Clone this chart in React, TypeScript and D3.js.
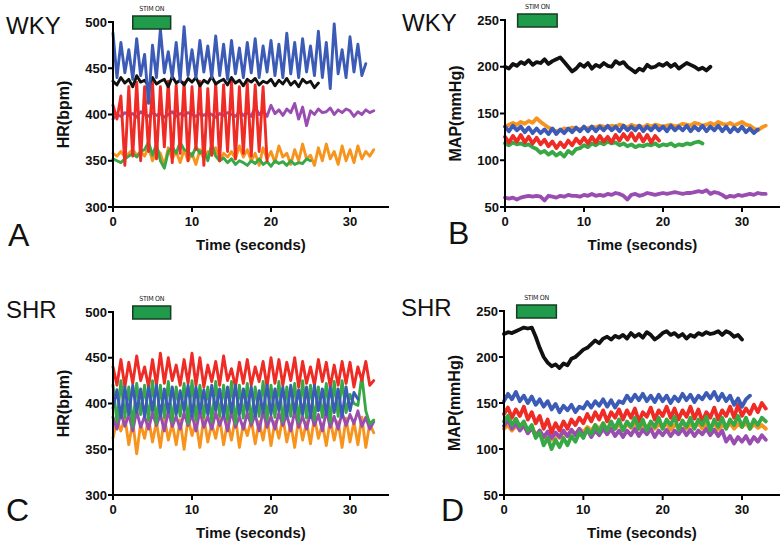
import React from "react";
import * as d3 from "d3";

// ---------- data (sampled every 0.5 s) ----------
const DT = 0.5;
const X_TICKS = [0, 10, 20, 30];
const HR_TICKS = [300, 350, 400, 450, 500];
const MAP_TICKS = [50, 100, 150, 200, 250];

// Panel A: WKY heart rate
const hrWkyBlue = [488,440,478,445,470,438,482,442,465,412, 475,440,492,445,468,440,478,436,495,442, 470,440,480,446,474,440,485,442,476,438, 480,444,472,440,478,445,482,440,474,446, 480,442,476,440,488,444,478,440,482,446, 474,442,490,440,478,428,498,444,470,440, 484,446,476,442,455];
const hrWkyBlack = [436,432,440,434,438,430,442,435,437,431, 440,433,436,438,430,441,434,437,432,439, 435,440,431,437,434,441,433,436,438,432, 440,434,437,431,438,435,439,432,436,434, 438,431,437,433,439,432,436,430,438,434, 436,429,434];
const hrWkyRed = [410,395,420,345,430,355,435,350,430,360, 435,352,430,365,436,348,432,358,435,350, 430,362,436,345,428,356,434,350,432,360, 436,352,430,358,434,355,432,360,430,350];
const hrWkyPurple = [395,400,398,402,399,401,397,403,400,398, 402,399,401,397,400,403,398,401,399,402, 400,398,401,399,402,400,397,401,399,402, 400,398,403,399,402,398,408,400,404,398, 410,401,405,399,406,402,412,395,408,388, 404,400,406,402,403,407,400,405,402,406, 404,398,403,400,405,402,404];
const hrWkyOrange = [358,355,360,354,358,362,356,360,355,365, 350,362,358,345,364,352,360,348,362,350, 358,346,362,352,360,356,364,350,358,354, 360,352,366,354,362,350,358,345,364,352, 360,348,366,354,358,346,362,350,368,352, 356,345,364,350,368,352,360,346,366,350, 362,348,366,352,360,355,362];
const hrWkyGreen = [352,350,348,352,355,358,354,360,362,370, 356,368,350,342,360,365,358,370,362,360, 355,365,358,362,350,368,355,350,353,348, 352,346,350,348,345,350,347,352,346,349, 344,350,347,349,345,350,346,348,347,352, 350];

// Panel B: WKY mean arterial pressure
const mapWkyBlack = [200,198,203,201,205,203,207,202,205,204, 208,203,206,208,210,205,200,195,198,203, 200,204,198,202,200,204,201,200,206,203, 205,200,197,194,198,196,202,199,200,203, 201,204,200,203,198,201,204,202,200,197, 199,196,200];
const mapWkyOrange = [136,138,140,138,141,139,142,140,145,141, 138,135,133,131,132,134,133,135,134,133, 135,134,136,135,137,136,135,137,136,138, 137,135,138,136,137,135,138,136,138,137, 136,137,138,136,137,139,138,137,140,139, 137,138,140,138,141,139,138,140,137,139, 141,138,137,134,132,135,137];
const mapWkyBlue = [136,131,137,132,136,130,135,129,134,129, 133,128,134,128,133,129,134,130,135,131, 136,131,136,131,136,132,137,132,136,131, 137,132,136,132,137,131,136,132,137,132, 136,131,137,132,136,132,137,131,136,132, 137,131,136,132,137,131,136,130,135,131, 136,130,134,129,133];
const mapWkyRed = [125,119,126,120,127,119,125,118,124,117, 122,115,120,113,119,114,121,116,123,118, 124,118,125,119,126,120,125,119,127,121, 128,122,129,121,128,120,127,119,126,121];
const mapWkyGreen = [118,116,119,117,118,116,117,114,112,108, 110,106,109,105,108,104,110,107,112,113, 116,114,118,116,119,117,120,118,119,116, 118,115,117,114,116,115,117,116,118,115, 117,116,118,115,117,116,118,117,119,120, 118];
const mapWkyPurple = [60,59,60,58,60,61,62,61,62,61, 57,62,61,60,62,61,63,62,62,61, 63,62,64,62,63,62,64,63,65,64, 62,58,63,64,62,63,65,64,63,64, 65,64,65,66,65,64,65,65,66,67, 66,68,64,66,65,63,60,62,61,63, 62,63,64,63,65,64,64];

// Panel C: SHR heart rate
const hrShrRed = [440,420,448,418,445,422,452,425,440,418, 448,420,455,422,450,425,442,420,448,422, 455,420,450,418,442,424,446,420,452,425, 438,418,445,422,448,420,440,424,446,418, 450,422,448,420,445,425,450,418,446,422, 440,420,448,424,445,418,442,420,446,422, 445,418,440,425,446,420,425];
const hrShrGreen = [420,380,425,385,418,375,422,388,420,382, 425,378,420,385,424,380,418,386,422,378, 425,382,420,385,418,380,424,386,420,382, 424,378,420,384,422,380,418,386,424,382, 420,385,424,380,418,386,422,380,425,384, 420,382,418,385,422,380,424,386,425,390, 410,400,398,430,392,378,382];
const hrShrBlue = [395,415,385,418,388,420,390,416,385,418, 392,420,386,416,390,418,388,414,392,420, 386,418,390,415,388,420,392,416,386,418, 390,420,388,416,392,418,386,414,390,420, 388,416,392,418,386,420,390,415,388,418, 385,420,392,416,388,418,390,416,386,418, 392,412,405];
const hrShrPurple = [385,372,390,375,388,370,392,374,386,372, 390,376,388,370,392,375,386,372,390,376, 388,370,392,374,386,372,390,376,388,370, 392,374,386,372,390,376,388,370,392,374, 386,372,390,376,388,370,392,374,386,372, 390,376,388,370,392,374,386,372,390,376, 388,378,392,375,385,372,380];
const hrShrOrange = [362,382,370,385,355,380,345,378,362,384, 358,380,352,385,360,378,355,382,350,384, 365,380,352,385,358,378,362,384,355,380, 360,385,352,378,365,382,356,380,360,385, 354,380,362,385,358,378,352,384,360,380, 356,385,362,378,354,382,360,380,352,384, 358,380,355,385,352,378,368];

// Panel D: SHR mean arterial pressure
const mapShrBlack = [225,227,226,228,230,232,231,232,222,210, 200,194,190,192,188,193,191,198,200,204, 208,210,214,218,215,220,222,219,223,221, 224,220,226,222,225,221,227,224,219,222, 226,228,224,226,222,225,220,224,222,226, 224,227,225,226,228,224,228,226,222,224, 219];
const mapShrBlue = [152,160,154,162,152,158,150,157,148,154, 146,152,143,149,140,147,142,148,140,146, 144,151,145,152,147,154,146,153,145,152, 150,158,152,159,153,160,152,158,151,159, 152,158,150,157,152,160,153,159,151,158, 154,161,155,162,153,160,152,158,148,155, 146,154,158];
const mapShrRed = [138,145,134,143,136,146,132,140,128,136, 122,132,118,128,120,130,122,132,126,134, 128,138,130,140,132,142,130,140,134,143, 132,142,134,144,130,140,135,145,132,142, 136,146,134,144,132,142,135,146,133,143, 130,140,134,145,132,142,136,146,134,148, 136,144,138,148,140,150,144];
const mapShrOrange = [122,126,120,125,122,127,118,124,115,120, 112,118,110,116,112,118,114,120,116,122, 118,124,120,126,122,128,120,126,122,127, 121,127,123,128,122,126,124,128,122,127, 123,128,121,126,124,129,122,127,123,128, 122,127,124,128,121,126,123,128,122,127, 124,128,122,127,123,126,122];
const mapShrGreen = [130,136,126,133,124,130,120,126,112,118, 104,112,100,110,102,112,104,114,108,118, 112,122,116,126,118,128,120,130,122,132, 120,130,124,134,122,132,120,130,124,134, 122,132,126,135,121,131,124,134,122,132, 126,135,120,132,124,134,122,132,126,136, 124,134,122,132,126,134,130];
const mapShrPurple = [125,132,122,128,120,126,117,123,114,120, 113,119,112,118,113,120,114,121,115,122, 114,121,113,120,115,122,116,122,114,120, 113,120,115,122,114,121,116,122,113,120, 115,121,114,120,116,122,115,121,114,120, 116,122,115,121,114,120,108,114,106,113, 108,114,106,113,108,115,110];

// stimulation windows (seconds)
const stimA = [2.5, 7.3];
const stimB = [1.6, 6.6];

// ---------- styling ----------
const C = {
  blue: "#3c5bb6",
  black: "#111111",
  red: "#ee2b25",
  purple: "#9a4db0",
  orange: "#f7941e",
  green: "#38a846",
};

type Series = { values: number[]; color: string };
type Panel = {
  x0: number; x1: number; axisEnd: number; yTop: number; yBot: number;
  domainY: [number, number]; yTicks: number[]; yLabel: string;
  strain: string; strainX: number; strainY: number;
  letter: string; letterX: number; letterY: number;
  stim: number[]; series: Series[]; sw: number;
};

const panels: Panel[] = [
  {
    x0: 113, x1: 350, axisEnd: 389, yTop: 22, yBot: 207, domainY: [300, 500], yTicks: HR_TICKS,
    yLabel: "HR(bpm)", strain: "WKY", strainX: 6, strainY: 34, letter: "A", letterX: 8, letterY: 246,
    stim: stimA, sw: 2.9,
    series: [
      { values: hrWkyOrange, color: C.orange },
      { values: hrWkyGreen, color: C.green },
      { values: hrWkyPurple, color: C.purple },
      { values: hrWkyRed, color: C.red },
      { values: hrWkyBlack, color: C.black },
      { values: hrWkyBlue, color: C.blue },
    ],
  },
  {
    x0: 505, x1: 742, axisEnd: 780, yTop: 20, yBot: 207, domainY: [50, 250], yTicks: MAP_TICKS,
    yLabel: "MAP(mmHg)", strain: "WKY", strainX: 402, strainY: 31, letter: "B", letterX: 448, letterY: 244,
    stim: stimB, sw: 3.8,
    series: [
      { values: mapWkyOrange, color: C.orange },
      { values: mapWkyBlue, color: C.blue },
      { values: mapWkyGreen, color: C.green },
      { values: mapWkyRed, color: C.red },
      { values: mapWkyPurple, color: C.purple },
      { values: mapWkyBlack, color: C.black },
    ],
  },
  {
    x0: 113, x1: 350, axisEnd: 389, yTop: 312, yBot: 495, domainY: [300, 500], yTicks: HR_TICKS,
    yLabel: "HR(bpm)", strain: "SHR", strainX: 6, strainY: 318, letter: "C", letterX: 6, letterY: 521,
    stim: stimA, sw: 2.9,
    series: [
      { values: hrShrOrange, color: C.orange },
      { values: hrShrPurple, color: C.purple },
      { values: hrShrGreen, color: C.green },
      { values: hrShrRed, color: C.red },
      { values: hrShrBlue, color: C.blue },
    ],
  },
  {
    x0: 504, x1: 742, axisEnd: 780, yTop: 311, yBot: 495, domainY: [50, 250], yTicks: MAP_TICKS,
    yLabel: "MAP(mmHg)", strain: "SHR", strainX: 401, strainY: 316, letter: "D", letterX: 441, letterY: 521,
    stim: stimB, sw: 3.8,
    series: [
      { values: mapShrOrange, color: C.orange },
      { values: mapShrPurple, color: C.purple },
      { values: mapShrRed, color: C.red },
      { values: mapShrGreen, color: C.green },
      { values: mapShrBlue, color: C.blue },
      { values: mapShrBlack, color: C.black },
    ],
  },
];

const FONT = "'Liberation Sans', Arial, Helvetica, sans-serif";

function PanelView({ p }: { p: Panel }) {
  const x = d3.scaleLinear().domain([0, 30]).range([p.x0, p.x1]);
  const y = d3.scaleLinear().domain(p.domainY).range([p.yBot, p.yTop]);
  const line = d3
    .line<number>()
    .x((_, i) => x(i * DT))
    .y((v) => y(v));
  const midX = (p.x0 + p.axisEnd) / 2;
  const midY = (p.yTop + p.yBot) / 2;
  return (
    <g>
      {/* traces */}
      {p.series.map((s, i) => (
        <path key={i} d={line(s.values) || ""} fill="none" stroke={s.color}
          strokeWidth={p.sw} strokeLinejoin="round" strokeLinecap="round" />
      ))}
      {/* y axis */}
      <line x1={p.x0} x2={p.x0} y1={p.yTop - 1} y2={p.yBot} stroke="#000" strokeWidth={2} />
      {p.yTicks.map((t) => (
        <g key={t}>
          <line x1={p.x0 - 5} x2={p.x0} y1={y(t)} y2={y(t)} stroke="#000" strokeWidth={2} />
          <text x={p.x0 - 6} y={y(t)} dy="0.36em" textAnchor="end" fontFamily={FONT}
            fontWeight="bold" fontSize={13} fill="#111">{t}</text>
        </g>
      ))}
      {/* x axis */}
      <line x1={p.x0 - 1} x2={p.axisEnd} y1={p.yBot} y2={p.yBot} stroke="#000" strokeWidth={2} />
      {X_TICKS.map((t) => (
        <g key={t}>
          <line x1={x(t)} x2={x(t)} y1={p.yBot} y2={p.yBot + 5} stroke="#000" strokeWidth={2} />
          <text x={x(t)} y={p.yBot + 19} textAnchor="middle" fontFamily={FONT}
            fontWeight="bold" fontSize={13} fill="#111">{t}</text>
        </g>
      ))}
      <text x={midX} y={p.yBot + 43} textAnchor="middle" fontFamily={FONT}
        fontWeight="bold" fontSize={15} fill="#111">Time (seconds)</text>
      <text transform={`translate(${p.x0 - 44},${midY}) rotate(-90)`} textAnchor="middle"
        fontFamily={FONT} fontWeight="bold" fontSize={16} fill="#111">{p.yLabel}</text>
      {/* stim bar */}
      <rect x={x(p.stim[0])} y={p.yTop - 6} width={x(p.stim[1]) - x(p.stim[0])} height={13}
        fill="#1f9b4b" stroke="#173d22" strokeWidth={1.5} />
      <text x={(x(p.stim[0]) + x(p.stim[1])) / 2} y={p.yTop - 11} textAnchor="middle"
        fontFamily="'Liberation Sans Narrow', 'DejaVu Sans Condensed', sans-serif"
        fontSize={7} fill="#222" letterSpacing={-0.3}>STIM ON</text>
      {/* labels */}
      <text x={p.strainX} y={p.strainY} fontFamily={FONT} fontSize={24} fill="#111">{p.strain}</text>
      <text x={p.letterX} y={p.letterY} fontFamily={FONT} fontSize={32} fill="#111">{p.letter}</text>
    </g>
  );
}

export default function App() {
  return (
    <svg width={783} height={544} style={{ display: "block", position: "absolute", left: 0, top: 0, background: "#fff" }}>
      <rect width={783} height={544} fill="#fff" />
      {panels.map((p, i) => (
        <PanelView key={i} p={p} />
      ))}
    </svg>
  );
}
